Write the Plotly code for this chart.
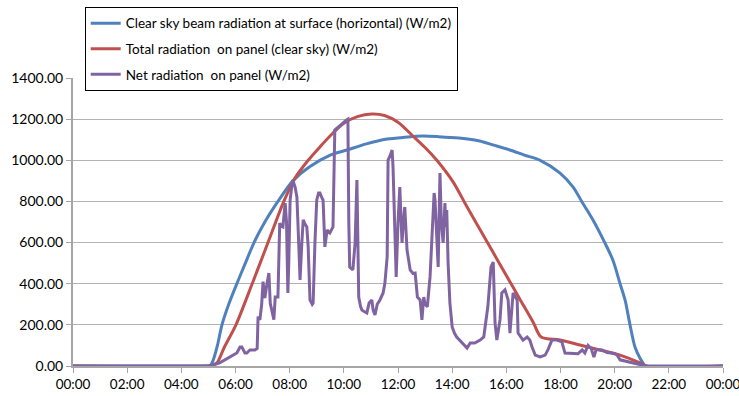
import plotly.graph_objects as go

# Clear-sky beam radiation on a horizontal surface (W/m2)
beam_time = ["00:00", "05:00", "05:03", "05:10", "05:20", "05:30", "05:45", "06:03",
             "06:20", "06:41", "07:05", "07:34", "08:07", "08:45", "09:30", "10:07",
             "10:50", "11:36", "12:15", "12:55", "13:30", "14:15", "15:01", "15:30",
             "16:08", "16:40", "17:15", "17:59", "18:28", "18:47", "19:12", "19:38",
             "19:56", "20:12", "20:23", "20:34", "20:45", "20:56", "21:09", "24:00"]
beam_value = [0, 0, 0, 25, 100, 200, 300, 400,
              490, 600, 700, 800, 900, 970, 1025, 1050,
              1080, 1103, 1112, 1118, 1115, 1108, 1094, 1075,
              1050, 1025, 1000, 938, 870, 800, 710, 600,
              515, 400, 321, 200, 92, 39, 0, 0]

# Total clear-sky radiation on the panel (W/m2)
panel_time = ["00:00", "05:00", "05:10", "05:19", "05:35", "06:01", "06:37", "07:12",
              "07:47", "08:12", "08:41", "09:07", "09:35", "10:00", "10:30", "11:02",
              "11:30", "12:00", "12:33", "13:00", "13:26", "14:02", "14:30", "15:00",
              "15:30", "16:00", "16:30", "17:00", "17:17", "17:59", "18:43", "19:27",
              "20:12", "20:56", "21:09", "24:00"]
panel_value = [0, 0, 5, 15, 90, 200, 400, 600,
               800, 914, 1000, 1065, 1130, 1180, 1212, 1225,
               1218, 1185, 1118, 1062, 1000, 895, 785, 670,
               555, 440, 325, 210, 141, 126, 102, 78,
               53, 15, 0, 0]

# Measured net radiation on the panel (W/m2)
net_time = ["00:00", "05:00", "05:03", "05:25", "05:48", "06:03", "06:10", "06:14",
            "06:21", "06:25", "06:32", "06:43", "06:48", "06:50", "06:54", "06:58",
            "07:01", "07:05", "07:10", "07:14", "07:17", "07:21", "07:25", "07:28",
            "07:34", "07:38", "07:41", "07:45", "07:50", "07:53", "07:56", "07:58",
            "08:01", "08:05", "08:07", "08:12", "08:16", "08:20", "08:23", "08:27",
            "08:30", "08:34", "08:38", "08:41", "08:45", "08:50", "08:52", "08:56",
            "09:00", "09:04", "09:07", "09:11", "09:14", "09:18", "09:23", "09:29",
            "09:36", "09:40", "09:47", "09:58", "10:05", "10:09", "10:11", "10:13",
            "10:20", "10:25", "10:29", "10:31", "10:33", "10:37", "10:40", "10:45",
            "10:51", "10:56", "11:02", "11:05", "11:09", "11:14", "11:20", "11:27",
            "11:31", "11:36", "11:38", "11:42", "11:47", "11:49", "11:51", "11:53",
            "11:56", "12:00", "12:04", "12:07", "12:09", "12:11", "12:15", "12:20",
            "12:24", "12:27", "12:33", "12:38", "12:43", "12:49", "12:53", "12:57",
            "13:00", "13:05", "13:11", "13:16", "13:20", "13:22", "13:25", "13:27",
            "13:29", "13:33", "13:36", "13:40", "13:44", "13:46", "13:48", "13:51",
            "13:55", "14:00", "14:05", "14:10", "14:15", "14:22", "14:33", "14:40",
            "14:50", "15:02", "15:10", "15:19", "15:26", "15:31", "15:35", "15:39",
            "15:46", "15:50", "15:57", "16:04", "16:08", "16:15", "16:24", "16:26",
            "16:37", "16:46", "16:52", "16:57", "17:04", "17:15", "17:26", "17:32",
            "17:41", "17:52", "18:03", "18:10", "18:17", "18:28", "18:39", "18:48",
            "18:54", "19:01", "19:08", "19:14", "19:19", "19:32", "19:43", "19:56",
            "20:05", "20:12", "20:27", "20:41", "20:56", "21:09", "24:00"]
net_value = [0, 0, 0, 15, 45, 63, 92, 92,
             63, 63, 78, 78, 85, 240, 224, 300,
             410, 330, 403, 452, 305, 257, 225, 335,
             335, 695, 680, 676, 792, 700, 355, 500,
             807, 880, 904, 870, 822, 600, 418, 600,
             710, 690, 676, 579, 321, 300, 306, 600,
             807, 841, 841, 820, 807, 579, 661, 647,
             676, 1147, 1162, 1181, 1195, 1200, 700, 481,
             467, 600, 904, 500, 335, 290, 272, 265,
             258, 306, 321, 270, 248, 300, 321, 355,
             403, 530, 1001, 1020, 1050, 967, 800, 598,
             433, 695, 870, 700, 598, 676, 773, 564,
             501, 467, 450, 452, 335, 321, 224, 335,
             300, 288, 433, 676, 841, 807, 676, 598,
             481, 938, 700, 598, 792, 676, 758, 500,
             306, 190, 160, 141, 130, 112, 87, 112,
             112, 126, 141, 288, 481, 505, 209, 126,
             224, 355, 370, 321, 160, 355, 321, 160,
             126, 141, 126, 92, 53, 44, 53, 78,
             126, 126, 117, 63, 63, 60, 60, 78,
             63, 100, 85, 44, 80, 78, 65, 62,
             55, 30, 22, 15, 8, 0, 0]

tick_labels = ["00:00", "02:00", "04:00", "06:00", "08:00", "10:00", "12:00",
               "14:00", "16:00", "18:00", "20:00", "22:00", "00:00"]

series_names = ["Clear sky beam radiation at surface (horizontal) (W/m2)",
                "Total radiation  on panel (clear sky) (W/m2)",
                "Net radiation  on panel (W/m2)"]
series_colors = ["#4F81BD", "#C0504D", "#8064A2"]


def to_minutes(labels):
    out = []
    for s in labels:
        h, m = s.split(":")
        out.append(int(h) * 60 + int(m))
    return out


fig = go.Figure()
for i, (t, v) in enumerate([(beam_time, beam_value),
                            (panel_time, panel_value),
                            (net_time, net_value)]):
    smooth = i < 2
    fig.add_trace(go.Scatter(
        x=to_minutes(t), y=v, mode="lines", name=series_names[i],
        legendgroup=f"g{i}",
        line=dict(color=series_colors[i], width=3,
                  shape="spline" if smooth else "linear",
                  smoothing=0.8 if smooth else None),
        cliponaxis=False,
    ))

font_family = "Lato, 'Open Sans', sans-serif"
fig.update_layout(
    width=739, height=396,
    margin=dict(l=73, r=16, t=78, b=30, autoexpand=False),
    paper_bgcolor="white", plot_bgcolor="white",
    font=dict(family=font_family, size=13.5, color="#000000"),
    showlegend=True,
    legend=dict(
        x=0.018, y=1.247, xanchor="left", yanchor="top",
        bgcolor="white", bordercolor="black", borderwidth=1,
        traceorder="grouped", tracegroupgap=5,
        font=dict(family=font_family, size=13.5, color="#000000"),
    ),
    xaxis=dict(
        range=[0, 1440], tickmode="array",
        tickvals=[i * 120 for i in range(len(tick_labels))],
        ticktext=tick_labels, automargin=False,
        ticklabeloverflow="allow",
        tickfont=dict(size=13.5),
        showgrid=False, showline=True, linecolor="#A6A6A6", linewidth=2,
        ticks="outside", ticklen=5, tickcolor="#A6A6A6",
        zeroline=False,
    ),
    yaxis=dict(
        range=[0, 1400], dtick=200, tickformat=".2f", automargin=False,
        ticklabeloverflow="allow",
        tickfont=dict(size=14),
        showgrid=True, gridcolor="#B3B3B3", gridwidth=1,
        showline=True, linecolor="#A6A6A6", linewidth=2,
        ticks="outside", ticklen=5, tickcolor="#A6A6A6",
        zeroline=False,
    ),
)

fig.write_html("out.html")
